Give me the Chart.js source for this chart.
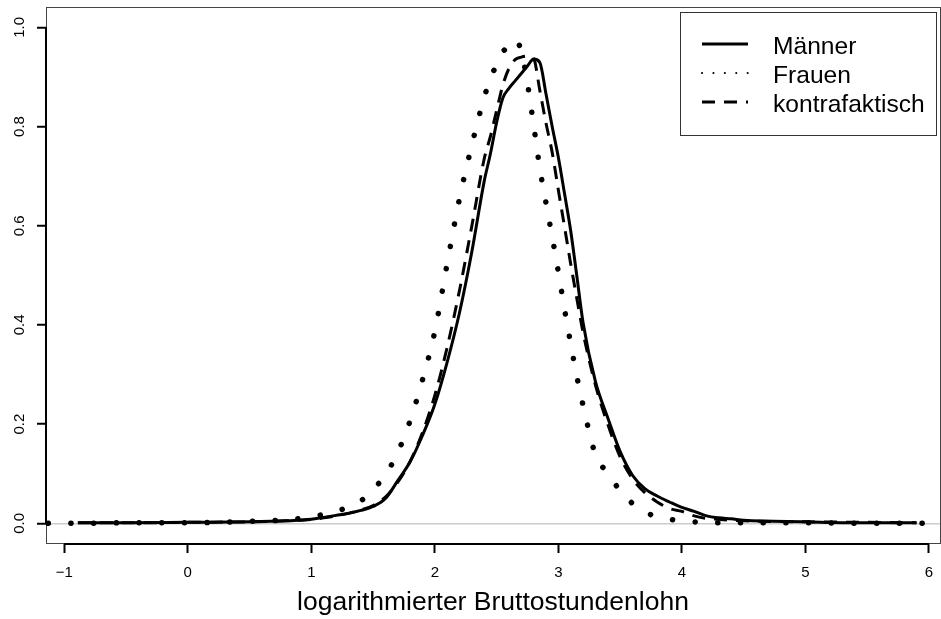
<!DOCTYPE html>
<html>
<head>
<meta charset="utf-8">
<script src="https://cdn.jsdelivr.net/npm/chart.js@4.4.1/dist/chart.umd.min.js"></script>
<style>
  html, body { margin: 0; padding: 0; background: #ffffff; }
  #myChart { display: block; }
</style>
</head>
<body>
<canvas id="myChart" width="941" height="619"></canvas>
<script>
// log hourly wage grid and density estimates
const xValues = [-1.13, -0.89, -0.5, 0, 0.5, 0.8, 1.0, 1.1, 1.2, 1.3, 1.4, 1.5, 1.6, 1.7, 1.8, 1.9,
  2.0, 2.1, 2.2, 2.3, 2.4, 2.45, 2.5, 2.55, 2.6, 2.65, 2.7, 2.75, 2.8, 2.85, 2.9, 2.95,
  3.0, 3.05, 3.1, 3.15, 3.2, 3.3, 3.4, 3.5, 3.6, 3.7, 3.8, 3.9, 4.0, 4.1, 4.2, 4.3, 4.4, 4.5,
  5.0, 5.5, 5.9, 6.05];

const menValues = [null, 0.001, 0.001, 0.002, 0.003, 0.005, 0.008, 0.012, 0.016, 0.020, 0.026, 0.034, 0.050, 0.086, 0.124, 0.177,
  0.240, 0.325, 0.425, 0.548, 0.690, 0.745, 0.808, 0.857, 0.877, 0.892, 0.907, 0.922, 0.936, 0.929, 0.866, 0.800,
  0.738, 0.665, 0.590, 0.498, 0.405, 0.286, 0.213, 0.145, 0.097, 0.070, 0.055, 0.043, 0.032, 0.024, 0.015, 0.011, 0.009, 0.006,
  0.003, 0.001, 0.001, null];

const womenValues = [0.0, 0.0, 0.001, 0.001, 0.004, 0.007, 0.013, 0.018, 0.024, 0.033, 0.045, 0.068, 0.098, 0.143, 0.207, 0.289,
  0.387, 0.524, 0.655, 0.763, 0.859, 0.896, 0.925, 0.950, 0.963, 0.975, 0.952, 0.887, 0.803, 0.716, 0.646, 0.578,
  0.507, 0.432, 0.362, 0.296, 0.238, 0.139, 0.101, 0.066, 0.040, 0.023, 0.013, 0.008, 0.005, 0.003, 0.001, 0.001, 0.001, 0.001,
  0.001, 0.0, 0.0, 0.0];

const counterValues = [null, 0.001, 0.001, 0.002, 0.003, 0.005, 0.008, 0.011, 0.015, 0.020, 0.027, 0.036, 0.053, 0.083, 0.125, 0.183,
  0.258, 0.355, 0.470, 0.600, 0.735, 0.780, 0.832, 0.883, 0.917, 0.935, 0.940, 0.942, 0.937, 0.873, 0.807, 0.748,
  0.672, 0.598, 0.523, 0.453, 0.385, 0.279, 0.200, 0.134, 0.090, 0.062, 0.043, 0.030, 0.024, 0.015, 0.010, 0.008, 0.006, 0.005,
  0.003, 0.002, 0.001, null];

const seriesLabels = ['Männer', 'Frauen', 'kontrafaktisch'];
const xTicks = [-1, 0, 1, 2, 3, 4, 5, 6];
const yTicks = [0, 0.2, 0.4, 0.6, 0.8, 1.0];
const xTitle = 'logarithmierter Bruttostundenlohn';

const fontFamily = '"Liberation Sans", Arial, Helvetica, sans-serif';

const toPoints = function (values) {
  return xValues.map(function (x, i) {
    return {x: x, y: values[i]};
  });
};

// R-style frame: thin box, axis lines only from first to last tick
const framePlugin = {
  id: 'frame',
  beforeDatasetsDraw: function (chart) {
    const ctx = chart.ctx;
    const area = chart.chartArea;
    const xScale = chart.scales.x;
    const yScale = chart.scales.y;

    ctx.save();
    ctx.strokeStyle = '#444444';
    ctx.lineWidth = 1;
    ctx.strokeRect(area.left + 0.5, area.top + 0.5, area.right - area.left, area.bottom - area.top - 1);

    ctx.strokeStyle = '#000000';
    ctx.lineWidth = 2;
    ctx.beginPath();
    ctx.moveTo(xScale.getPixelForValue(xTicks[0]), area.bottom);
    ctx.lineTo(xScale.getPixelForValue(xTicks[xTicks.length - 1]), area.bottom);
    ctx.moveTo(area.left, yScale.getPixelForValue(yTicks[0]));
    ctx.lineTo(area.left, yScale.getPixelForValue(yTicks[yTicks.length - 1]));
    ctx.stroke();
    ctx.restore();
  }
};

const legendPlugin = {
  id: 'boxLegend',
  afterDraw: function (chart) {
    const ctx = chart.ctx;
    const samples = [
      {dash: [], width: 3, cap: 'butt'},
      {dash: [0.1, 11.3], width: 2, cap: 'round'},
      {dash: [13, 9], width: 3, cap: 'butt'},
    ];

    ctx.save();
    ctx.fillStyle = '#ffffff';
    ctx.fillRect(680.5, 12.5, 256, 123);
    ctx.strokeStyle = '#333333';
    ctx.lineWidth = 1;
    ctx.strokeRect(680.5, 12.5, 256, 123);

    ctx.font = '24.6px ' + fontFamily;
    ctx.textBaseline = 'alphabetic';
    ctx.textAlign = 'left';

    chart.data.datasets.forEach(function (dataset, i) {
      const baseline = 53.5 + i * 29;
      const lineY = baseline - 9.5;
      ctx.strokeStyle = '#000000';
      ctx.lineWidth = samples[i].width;
      ctx.lineCap = samples[i].cap;
      ctx.setLineDash(samples[i].dash);
      ctx.beginPath();
      ctx.moveTo(702, lineY);
      ctx.lineTo(748, lineY);
      ctx.stroke();
      ctx.setLineDash([]);
      ctx.fillStyle = '#000000';
      ctx.fillText(dataset.label, 773, baseline);
    });
    ctx.restore();
  }
};

const app = {
  initChart: function () {
    const thisApp = this;

    Chart.defaults.color = '#000000';
    Chart.defaults.font.family = fontFamily;

    thisApp.ctx = document.getElementById('myChart').getContext('2d');
    thisApp.chart = new Chart(thisApp.ctx, {
      type: 'line',
      data: {
        datasets: [{
          label: seriesLabels[0],
          data: toPoints(menValues),
          borderColor: '#000000',
          borderWidth: 3,
        },
        {
          label: seriesLabels[1],
          data: toPoints(womenValues),
          borderColor: '#000000',
          borderWidth: 5.5,
          borderDash: [0.1, 22.6],
          borderCapStyle: 'round',
        },
        {
          label: seriesLabels[2],
          data: toPoints(counterValues),
          borderColor: '#000000',
          borderWidth: 3,
          borderDash: [13, 9],
        }
        ]
      },
      options: {
        responsive: false,
        animation: false,
        devicePixelRatio: 1,
        layout: {padding: {top: 7, left: 0, right: 1, bottom: 0}},
        elements: {
          point: {radius: 0, hoverRadius: 0},
          line: {cubicInterpolationMode: 'monotone', fill: false},
        },
        plugins: {
          legend: {display: false},
          tooltip: {enabled: false},
        },
        scales: {
          x: {
            type: 'linear',
            min: -1.148,
            max: 6.09,
            afterBuildTicks: function (scale) {
              scale.ticks = xTicks.map(function (v) { return {value: v}; });
            },
            afterFit: function (scale) {
              scale.height = 75;
              scale.paddingLeft = 0;
              scale.paddingRight = 0;
            },
            border: {display: false},
            grid: {
              drawOnChartArea: false,
              drawTicks: true,
              tickLength: 9,
              tickColor: '#000000',
              tickWidth: 2,
            },
            ticks: {
              padding: 11,
              maxRotation: 0,
              autoSkip: false,
              font: {size: 15},
              callback: function (value) {
                return value < 0 ? '\u2212' + Math.abs(value) : String(value);
              },
            },
            title: {
              display: true,
              text: xTitle,
              font: {size: 26.5},
              padding: {top: 0, bottom: 0},
            },
          },
          y: {
            min: -0.0417,
            max: 1.041,
            afterBuildTicks: function (scale) {
              scale.ticks = yTicks.map(function (v) { return {value: v}; });
            },
            afterFit: function (scale) {
              scale.width = 46;
              scale.paddingTop = 0;
              scale.paddingBottom = 0;
            },
            border: {display: false},
            grid: {
              drawOnChartArea: true,
              drawTicks: true,
              tickLength: 9,
              tickColor: '#000000',
              tickWidth: 2,
              lineWidth: 1.5,
              color: function (context) {
                return context.tick && context.tick.value === 0 ? '#cccccc' : 'rgba(0,0,0,0)';
              },
            },
            ticks: {
              padding: 7,
              minRotation: 90,
              maxRotation: 90,
              crossAlign: 'center',
              autoSkip: false,
              font: {size: 15},
              callback: function (value) {
                return value.toFixed(1);
              },
            },
          },
        },
      },
      plugins: [framePlugin, legendPlugin],
    });
  },
  init: function () {
    const thisApp = this;

    thisApp.initChart();
  },
};

app.init();
</script>
</body>
</html>
